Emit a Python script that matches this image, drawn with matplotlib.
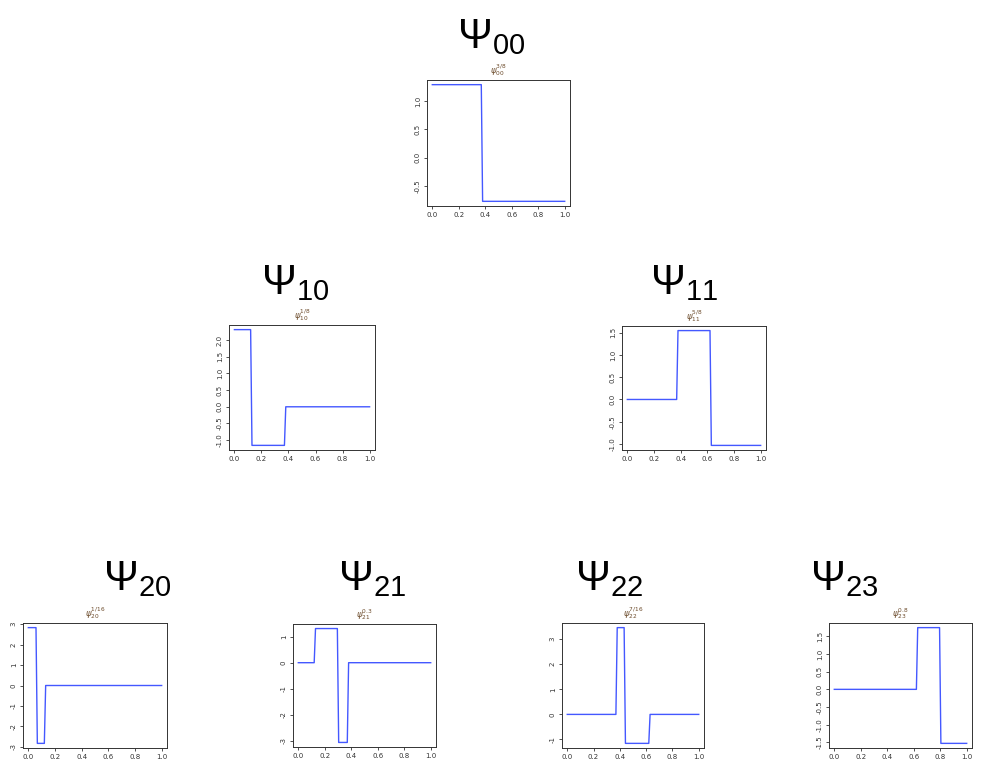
import numpy as np
import matplotlib.pyplot as plt
from matplotlib.ticker import MultipleLocator, FormatStrFormatter

plt.rcParams['axes.unicode_minus'] = False
plt.rcParams['mathtext.fontset'] = 'custom'
plt.rcParams['mathtext.rm'] = 'Liberation Sans'
plt.rcParams['mathtext.it'] = 'Liberation Sans:italic'

# wavelet index, split point label, break points and levels
names = ['00', '10', '11', '20', '21', '22', '23']
splits = ['3/8', '1/8', '5/8', '1/16', '0.3', '7/16', '0.8']
breaks = [[0.375], [0.125, 0.375], [0.375, 0.625], [0.0625, 0.125],
          [0.125, 0.3, 0.375], [0.375, 0.4375, 0.625], [0.625, 0.8]]
levels = [[1.29, -0.775], [2.31, -1.155, 0.0], [0.0, 1.549, -1.033],
          [2.83, -2.83, 0.0], [0.0, 1.31, -3.06, 0.0],
          [0.0, 3.46, -1.155, 0.0], [0.0, 1.746, -1.528]]
ystep = [0.5, 0.5, 0.5, 1, 1, 1, 0.5]

W, H = 992, 779
# axes boxes in pixels: left, top, right, bottom
boxes = [(427, 80, 570, 206), (229, 325, 375, 450), (622, 326, 766, 450),
         (23, 623, 167, 748), (293, 624, 436, 747), (562, 623, 704, 748),
         (829, 623, 972, 748)]
# big title centres (x, baseline y) in pixels
heads = [(491, 48), (295, 294), (684, 294), (137, 590), (372, 590),
         (609, 590), (844, 590)]

fig = plt.figure(figsize=(W / 100, H / 100), dpi=100)

for i in range(len(names)):
    l, t, r, b = boxes[i]
    ax = fig.add_axes([l / W, 1 - b / H, (r - l) / W, (b - t) / H])

    # step function with slightly slanted jumps like the sampled original
    xs, ys = [0.0], [levels[i][0]]
    for k, bp in enumerate(breaks[i]):
        xs += [bp - 0.005, bp + 0.005]
        ys += [levels[i][k], levels[i][k + 1]]
    xs.append(1.0)
    ys.append(levels[i][-1])
    ax.plot(xs, ys, color='#4458ff', lw=1.0)

    ax.margins(0.04)
    ax.xaxis.set_major_locator(MultipleLocator(0.2))
    ax.xaxis.set_major_formatter(FormatStrFormatter('%.1f'))
    ax.yaxis.set_major_locator(MultipleLocator(ystep[i]))
    ax.yaxis.set_major_formatter(FormatStrFormatter('%.1f' if ystep[i] < 1 else '%d'))
    ax.tick_params(labelsize=5, length=2.5, width=0.6, colors='#333333', pad=2)
    for lab in ax.get_yticklabels():
        lab.set_rotation(90)
        lab.set_va('center')
    for s in ax.spines.values():
        s.set_color('#333333')
        s.set_linewidth(0.7)

    ax.set_title(r'$\psi_{%s}^{%s}$' % (names[i], splits[i]), fontsize=6,
                 color='#6b4a2a', pad=5, math_fontfamily='dejavusans')

    hx, hy = heads[i]
    fig.text(hx / W, 1 - hy / H, r'$\Psi_{%s}$' % names[i], fontsize=30,
             ha='center', va='baseline')

fig.savefig('out.png', dpi=100)
